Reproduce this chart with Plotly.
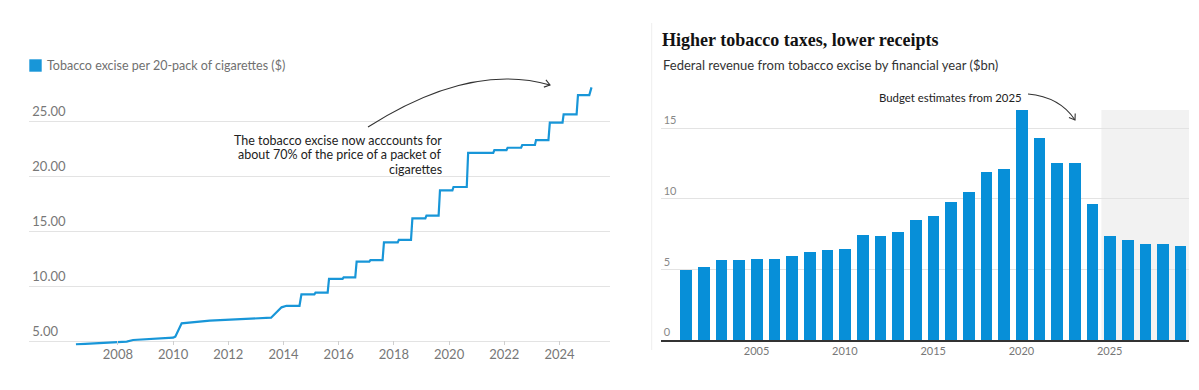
import plotly.graph_objects as go
import math

# The page body has an 8px default margin, so the figure is placed at (8, 8)
OFF = 8
W, H = 1183, 374

# ---------------- data ----------------
# Left: tobacco excise per 20-pack of cigarettes ($)
excise_dates = [2006.48, 2007.10, 2008.32, 2008.55, 2010.00, 2010.08, 2010.31, 2011.33,
                2012.06, 2013.03, 2013.55, 2013.93, 2014.11, 2014.58, 2014.65, 2015.12,
                2015.16, 2015.60, 2015.65, 2016.14, 2016.18, 2016.60, 2016.65, 2017.11,
                2017.15, 2017.59, 2017.64, 2018.14, 2018.18, 2018.62, 2018.67, 2019.14,
                2019.18, 2019.62, 2019.67, 2020.12, 2020.16, 2020.64, 2020.69, 2021.60,
                2021.64, 2022.08, 2022.12, 2022.61, 2022.65, 2023.11, 2023.15, 2023.60,
                2023.65, 2024.11, 2024.15, 2024.62, 2024.67, 2025.08, 2025.16]
excise_values = [4.70, 4.79, 4.94, 5.09, 5.30, 5.40, 6.61, 6.85,
                 6.94, 7.06, 7.12, 8.06, 8.20, 8.20, 9.24, 9.24,
                 9.39, 9.39, 10.64, 10.64, 10.79, 10.79, 12.21, 12.21,
                 12.36, 12.36, 13.97, 13.97, 14.20, 14.20, 16.15, 16.15,
                 16.40, 16.40, 18.70, 18.70, 19.00, 19.00, 22.10, 22.10,
                 22.36, 22.36, 22.57, 22.57, 22.82, 22.82, 23.27, 23.27,
                 24.85, 24.85, 25.60, 25.60, 27.36, 27.36, 28.06]
left_ytick_vals = [5, 10, 15, 20, 25]
left_ytick_text = ["5.00", "10.00", "15.00", "20.00", "25.00"]
left_xtick_vals = [2008, 2010, 2012, 2014, 2016, 2018, 2020, 2022, 2024]

# Right: federal revenue from tobacco excise by financial year ($bn)
fin_years = [2001, 2002, 2003, 2004, 2005, 2006, 2007, 2008, 2009, 2010,
             2011, 2012, 2013, 2014, 2015, 2016, 2017, 2018, 2019, 2020,
             2021, 2022, 2023, 2024, 2025, 2026, 2027, 2028, 2029]
revenue_bn = [4.96, 5.15, 5.67, 5.67, 5.74, 5.74, 5.98, 6.26, 6.35, 6.45,
              7.44, 7.35, 7.65, 8.48, 8.79, 9.78, 10.49, 11.88, 12.10, 16.28,
              14.29, 12.57, 12.57, 9.64, 7.38, 7.07, 6.79, 6.79, 6.69]
right_ytick_vals = [0, 5, 10, 15]
right_xtick_vals = [2005, 2010, 2015, 2020, 2025]
estimate_start = 2024.53

# ---------------- helpers (window pixel -> paper) ----------------
def px(x):
    return (x - OFF) / W

def py(y):
    return 1 - (y - OFF) / H

def chevron(tip, direction, length=6.5, angle_deg=35):
    dx, dy = direction
    n = math.hypot(dx, dy)
    bx, by = -dx / n, -dy / n
    a = math.radians(angle_deg)
    c, s = math.cos(a), math.sin(a)
    p1 = (tip[0] + length * (bx * c - by * s), tip[1] + length * (bx * s + by * c))
    p2 = (tip[0] + length * (bx * c + by * s), tip[1] + length * (-bx * s + by * c))
    return (f"M {px(p1[0])},{py(p1[1])} L {px(tip[0])},{py(tip[1])} "
            f"L {px(p2[0])},{py(p2[1])}")

def qcurve(p0, c, p1):
    return (f"M {px(p0[0])},{py(p0[1])} Q {px(c[0])},{py(c[1])} "
            f"{px(p1[0])},{py(p1[1])}")

LINE_BLUE = "#1896d8"
BAR_BLUE = "#078fd8"
GRID = "#e3e3e3"
FONT = "Lato"

fig = go.Figure()

fig.add_trace(go.Scatter(
    x=excise_dates, y=excise_values, mode="lines",
    line=dict(color=LINE_BLUE, width=2.2),
    xaxis="x", yaxis="y", hoverinfo="x+y", showlegend=False))

fig.add_trace(go.Bar(
    x=fin_years, y=revenue_bn, width=0.66,
    marker=dict(color=BAR_BLUE, line=dict(width=0)),
    xaxis="x2", yaxis="y2", showlegend=False))

fig.update_layout(
    width=W, height=H,
    margin=dict(l=0, r=0, t=0, b=0),
    paper_bgcolor="white", plot_bgcolor="white",
    font=dict(family=FONT, color="#333333"),
    showlegend=False,
    bargap=0,
    xaxis=dict(
        domain=[px(29.3), px(610)], range=[2004.79, 2025.83],
        tickvals=left_xtick_vals, tickformat="d",
        ticks="inside", ticklen=4, tickcolor="#cfcfcf",
        showgrid=False, zeroline=False, showline=False,
        tickfont=dict(size=13, color="#777777", family=FONT),
        anchor="y", fixedrange=True),
    yaxis=dict(
        domain=[py(345.4), py(85.8)], range=[4.6, 28.2],
        tickvals=left_ytick_vals, ticktext=left_ytick_text,
        ticklabelposition="inside top", ticks="",
        showgrid=True, gridcolor=GRID, gridwidth=1,
        zeroline=False, showline=False,
        tickfont=dict(size=13, color="#777777", family=FONT),
        anchor="x", fixedrange=True),
    xaxis2=dict(
        domain=[px(660.7), px(1189)], range=[1999.57, 2029.49],
        tickvals=right_xtick_vals, tickformat="d", ticks="",
        showgrid=False, zeroline=False,
        showline=True, linecolor="#333333", linewidth=1.5,
        tickfont=dict(size=11, color="#777777", family=FONT),
        anchor="y2", fixedrange=True),
    yaxis2=dict(
        domain=[py(340), py(110)], range=[0, 16.3],
        tickvals=right_ytick_vals,
        ticklabelposition="inside top", ticks="",
        showgrid=True, gridcolor=GRID, gridwidth=1,
        zeroline=False, showline=False,
        tickfont=dict(size=11, color="#888888", family=FONT),
        anchor="x2", fixedrange=True),
)

shapes = [
    # panel divider
    dict(type="line", xref="paper", yref="paper",
         x0=px(651.7), x1=px(651.7), y0=py(23), y1=py(350),
         line=dict(color="#eeeeee", width=1)),
    # budget-estimate shading
    dict(type="rect", xref="x2", yref="y2 domain",
         x0=estimate_start, x1=2029.49, y0=0, y1=1,
         fillcolor="#f2f2f2", line=dict(width=0), layer="below"),
    # legend swatch
    dict(type="rect", xref="paper", yref="paper",
         x0=px(29.3), x1=px(41.7), y0=py(71.7), y1=py(59.3),
         fillcolor=LINE_BLUE, line=dict(width=0)),
    # left curved arrow
    dict(type="path", xref="paper", yref="paper",
         path=qcurve((368, 127), (470, 62), (550, 85)),
         line=dict(color="#333333", width=1.1)),
    dict(type="path", xref="paper", yref="paper",
         path=chevron((550, 85), (80, 23)),
         line=dict(color="#333333", width=1.1)),
    # right curved arrow
    dict(type="path", xref="paper", yref="paper",
         path=qcurve((1028, 94), (1060, 97), (1075, 120)),
         line=dict(color="#333333", width=1.1)),
    dict(type="path", xref="paper", yref="paper",
         path=chevron((1075, 120), (15, 23)),
         line=dict(color="#333333", width=1.1)),
]
fig.update_layout(shapes=shapes)

annotations = [
    dict(text="Tobacco excise per 20-pack of cigarettes ($)",
         x=px(45), y=py(65.5), xanchor="left", yanchor="middle",
         font=dict(size=12.5, color="#707070", family=FONT)),
    dict(text="The tobacco excise now acccounts for",
         x=px(443.5), y=py(140), xanchor="right", yanchor="middle",
         font=dict(size=12.5, color="#222222", family=FONT)),
    dict(text="about 70% of the price of a packet of",
         x=px(443.5), y=py(154.5), xanchor="right", yanchor="middle",
         font=dict(size=12.5, color="#222222", family=FONT)),
    dict(text="cigarettes",
         x=px(443.5), y=py(169.3), xanchor="right", yanchor="middle",
         font=dict(size=12.5, color="#222222", family=FONT)),
    dict(text="<b>Higher tobacco taxes, lower receipts</b>",
         x=px(659.5), y=py(40), xanchor="left", yanchor="middle",
         font=dict(size=18, color="#121212", family="Liberation Serif")),
    dict(text="Federal revenue from tobacco excise by financial year ($bn)",
         x=px(660.5), y=py(65), xanchor="left", yanchor="middle",
         font=dict(size=13, color="#333333", family=FONT)),
    dict(text="Budget estimates from 2025",
         x=px(1023.5), y=py(97.5), xanchor="right", yanchor="middle",
         font=dict(size=11.4, color="#222222", family=FONT)),
]
for a in annotations:
    a.update(xref="paper", yref="paper", showarrow=False)
fig.update_layout(annotations=annotations)

fig.write_html("out.html")
